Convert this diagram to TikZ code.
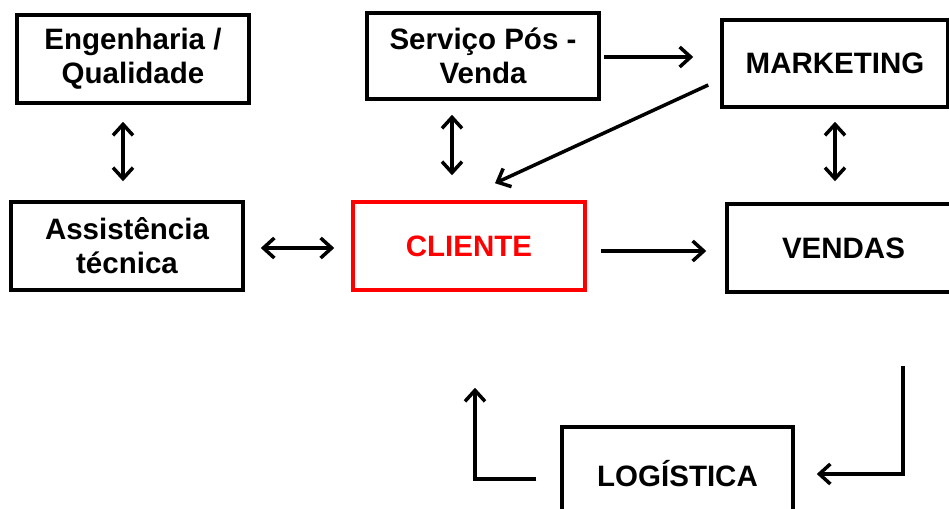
\documentclass[tikz,border=0pt]{standalone}
\usepackage{fontspec}
\setmainfont{Liberation Sans}
\usetikzlibrary{arrows.meta,calc}
\definecolor{cred}{RGB}{255,0,0}
\tikzset{
  box/.style={draw=black, line width=3.5pt, inner sep=0pt, align=center,
    font=\fontsize{29.5}{34}\selectfont\bfseries},
  redbox/.style={box, draw=cred, text=cred},
  conn/.style={line width=3.5pt, line join=miter},
  >={Straight Barb[length=11pt,width=20pt]}
}
\begin{document}
\begin{tikzpicture}[x=1pt,y=-1pt]
\useasboundingbox (0,0) rectangle (949,508);
\clip (0,0) rectangle (949,508);
\fill[white] (0,0) rectangle (949,508);
\node[box, minimum width=232pt, minimum height=88pt] (eng) at (133,59) {Engenharia /\\Qualidade};
\node[box, minimum width=232pt, minimum height=86pt] (serv) at (483,56) {Serviço Pós -\\Venda};
\node[box, minimum width=226pt, minimum height=87pt] (mkt) at (835,63.5) {MARKETING};
\node[box, minimum width=232pt, minimum height=88pt] (assist) at (127,246) {Assistência\\técnica};
\node[redbox, minimum width=232pt, minimum height=88pt] (cli) at (469,246) {CLIENTE};
\node[box, minimum width=233pt, minimum height=88pt] (vend) at (843.5,248) {VENDAS};
\node[box, minimum width=231pt, minimum height=94pt] (log) at (677.5,474) {LOGÍSTICA};
\draw[conn,<->] ($(eng.south)+(-10,17)$) -- ($(assist.north)+(-4,-19)$);
\draw[conn,<->] ($(serv.south)+(-31,14)$) -- ($(cli.north)+(-17,-25)$);
\draw[conn,<->] ($(assist.east)+(16,2)$) -- ($(cli.west)+(-17,2)$);
\draw[conn,->] ($(serv.east)+(3,1)$) -- ($(mkt.west)+(-27,-6.5)$);
\draw[conn,->] ($(mkt.west)+(-12,21.5)$) -- ($(cli.north)+(26,-17)$);
\draw[conn,<->] ($(mkt.south)+(0,13)$) -- ($(vend.north)+(-8.5,-21)$);
\draw[conn,->] ($(cli.east)+(14,5)$) -- ($(vend.west)+(-19,3)$);
\draw[conn,->] ($(vend.south)+(59.5,72)$) |- ($(log.east)+(22,0)$);
\draw[conn,->] ($(log.west)+(-24,5)$) -| ($(cli.south)+(6,96)$);
\end{tikzpicture}
\end{document}
